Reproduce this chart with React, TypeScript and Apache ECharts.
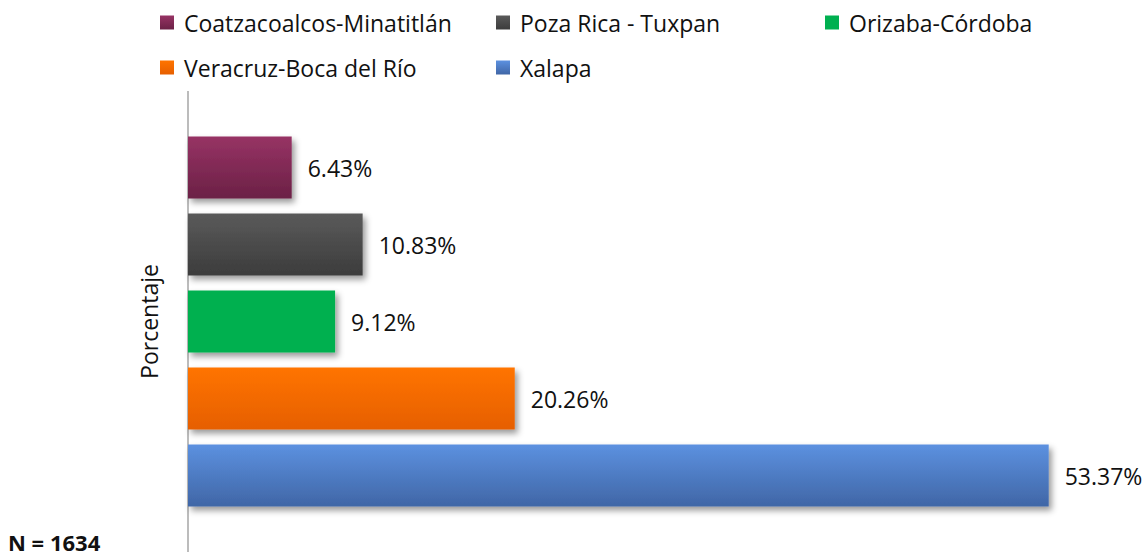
import React, { useEffect, useRef } from "react";
import * as echarts from "echarts";

const regions = [
  "Coatzacoalcos-Minatitlán",
  "Poza Rica - Tuxpan",
  "Orizaba-Córdoba",
  "Veracruz-Boca del Río",
  "Xalapa",
];
const percentages = [6.43, 10.83, 9.12, 20.26, 53.37];
const topColors = ["#973364", "#5a5a5a", "#00b050", "#ff7400", "#5c91e0"];
const bottomColors = ["#6b2146", "#3c3c3c", "#00b050", "#e65f00", "#4066a6"];
const legendPos = [
  { left: 160, top: 11 },
  { left: 496, top: 11 },
  { left: 825, top: 11 },
  { left: 160, top: 56 },
  { left: 496, top: 56 },
];
const sampleLabel = "N = 1634";
const axisName = "Porcentaje";

const FONT = "'Open Sans', sans-serif";
const FS = 23;

export default function App() {
  const ref = useRef<HTMLDivElement>(null);
  useEffect(() => {
    const chart = echarts.init(ref.current!, null, { renderer: "svg" });
    const series = regions.map((name, i) => ({
      name,
      type: "bar",
      stack: "all",
      barWidth: 62,
      data: percentages.map((v, j) => (j === i ? v : "-")),
      itemStyle: {
        color: new echarts.graphic.LinearGradient(0, 0, 0, 1, [
          { offset: 0, color: topColors[i] },
          { offset: 1, color: bottomColors[i] },
        ]),
        shadowColor: "rgba(0,0,0,0.4)",
        shadowBlur: 6,
        shadowOffsetX: 3,
        shadowOffsetY: 4,
      },
      label: {
        show: true,
        position: "right",
        distance: 16,
        formatter: (p: any) => p.value.toFixed(2) + "%",
        color: "#111",
        fontSize: FS,
        fontFamily: FONT,
      },
    }));
    chart.setOption({
      animation: false,
      backgroundColor: "#fff",
      legend: regions.map((name, i) => ({
        data: [name],
        left: legendPos[i].left,
        top: legendPos[i].top,
        icon: "rect",
        itemWidth: 14,
        itemHeight: 14,
        itemGap: 0,
        padding: 0,
        textStyle: { fontSize: FS, fontFamily: FONT, color: "#111", padding: [0, 0, 0, 5] },
        selectedMode: false,
      })),
      grid: { left: 188, top: 129, height: 385, width: 887 },
      xAxis: {
        type: "value",
        min: 0,
        max: 55,
        show: false,
      },
      yAxis: {
        type: "category",
        inverse: true,
        data: regions,
        axisLine: { show: false },
        axisTick: { show: false },
        axisLabel: { show: false },
        name: axisName,
        nameLocation: "middle",
        nameGap: 28,
        nameRotate: 90,
        nameTextStyle: { fontSize: FS, fontFamily: FONT, color: "#111" },
      },
      graphic: [
        {
          type: "line",
          shape: { x1: 188, y1: 91, x2: 188, y2: 552 },
          style: { stroke: "#a6a6a6", lineWidth: 1.5 },
        },
        {
          type: "text",
          left: 8,
          top: 531,
          style: {
            text: sampleLabel,
            fontSize: 22,
            fontWeight: "bold",
            fontFamily: FONT,
            fill: "#111",
          },
        },
      ],
      series,
    });
    return () => chart.dispose();
  }, []);
  return <div ref={ref} style={{ width: 1148, height: 560, position: "absolute", left: 0, top: 0 }} />;
}
